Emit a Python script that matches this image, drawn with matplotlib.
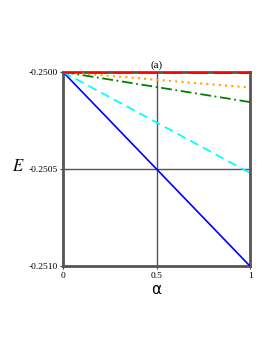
import matplotlib.pyplot as plt

# data
alpha = [0, 1]
E_blue = [-0.25, -0.2510]
E_cyan = [-0.25, -0.25052]
E_green = [-0.25, -0.250155]
E_orange = [-0.25, -0.25008]
E_red = [-0.25, -0.250003]

plt.rcParams['font.family'] = ['Liberation Serif', 'DejaVu Serif']
plt.rcParams['mathtext.fontset'] = 'stix'

fig = plt.figure(figsize=(2.73, 3.53), dpi=100)
ax = fig.add_axes([0.231, 0.246, 0.685, 0.550])

ax.axvline(0.5, color='#555555', lw=1.0, zorder=1)
ax.axhline(-0.2505, color='#555555', lw=1.0, zorder=1)

ax.plot(alpha, E_blue, color='blue', lw=1.2, zorder=3)
ax.plot(alpha, E_cyan, color='cyan', lw=1.3, ls=(0, (5, 3)), zorder=3)
ax.plot(alpha, E_green, color='green', lw=1.3, ls=(0, (6, 2, 1, 2)), zorder=3)
ax.plot(alpha, E_orange, color='orange', lw=1.5, ls=(0, (1, 2)), zorder=3)
ax.plot(alpha, E_red, color='red', lw=2.0, ls=(0, (7, 2)), zorder=4)

ax.set_xlim(0, 1)
ax.set_ylim(-0.2510, -0.2500)
ax.set_xticks([0, 0.5, 1])
ax.set_xticklabels(['0', '0.5', '1'])
ax.set_yticks([-0.2500, -0.2505, -0.2510])
ax.set_yticklabels(['-0.2500', '-0.2505', '-0.2510'])
ax.tick_params(labelsize=6.8, length=2, width=0.8, color='#444444', pad=2)

for s in ax.spines.values():
    s.set_linewidth(2.0)
    s.set_color('#555555')

ax.set_xlabel('α', fontsize=11, family=['DejaVu Sans'], labelpad=2)
ax.set_ylabel('$E$', fontsize=12, rotation=0, labelpad=0)
ax.yaxis.set_label_coords(-0.24, 0.47)
ax.set_title('(a)', fontsize=8, pad=3)

fig.savefig('out.png', dpi=100)
